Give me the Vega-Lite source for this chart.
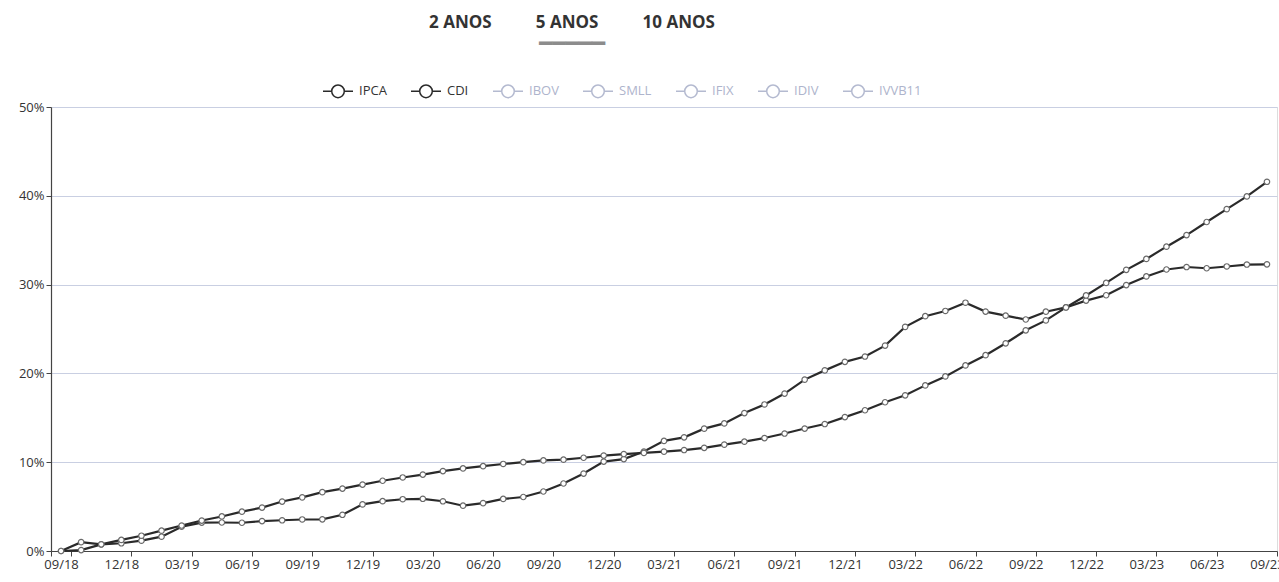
{
  "$schema": "https://vega.github.io/schema/vega-lite/v6.json",
  "width": 1226,
  "height": 444,
  "autosize": {"type": "none"},
  "padding": {"left": 51, "top": 107, "right": 2, "bottom": 31},
  "background": "white",
  "title": {
    "text": "2 ANOS\u00a0\u00a0\u00a0\u00a0\u00a0\u00a0\u00a0\u00a0\u00a0\u00a05 ANOS\u00a0\u00a0\u00a0\u00a0\u00a0\u00a0\u00a0\u00a0\u00a0\u00a010 ANOS",
    "subtitle": "▔▔▔▔▔",
    "anchor": "middle",
    "dx": -92,
    "offset": 8,
    "font": "Open Sans",
    "fontSize": 17,
    "fontWeight": "bold",
    "color": "#333333",
    "subtitleFont": "DejaVu Sans Mono",
    "subtitleFontSize": 22,
    "subtitleColor": "#8c8c8c",
    "subtitlePadding": 13
  },
  "data": {
    "values": [
      {"mes": "09/18", "IPCA": 0, "CDI": 0},
      {"mes": "10/18", "IPCA": 1.0, "CDI": 0.1},
      {"mes": "11/18", "IPCA": 0.75, "CDI": 0.75},
      {"mes": "12/18", "IPCA": 0.87, "CDI": 1.25},
      {"mes": "01/19", "IPCA": 1.16, "CDI": 1.72},
      {"mes": "02/19", "IPCA": 1.61, "CDI": 2.29},
      {"mes": "03/19", "IPCA": 2.73, "CDI": 2.87},
      {"mes": "04/19", "IPCA": 3.2, "CDI": 3.43},
      {"mes": "05/19", "IPCA": 3.21, "CDI": 3.89},
      {"mes": "06/19", "IPCA": 3.18, "CDI": 4.43},
      {"mes": "07/19", "IPCA": 3.37, "CDI": 4.89},
      {"mes": "08/19", "IPCA": 3.46, "CDI": 5.57},
      {"mes": "09/19", "IPCA": 3.55, "CDI": 6.04},
      {"mes": "10/19", "IPCA": 3.57, "CDI": 6.63},
      {"mes": "11/19", "IPCA": 4.08, "CDI": 7.03},
      {"mes": "12/19", "IPCA": 5.25, "CDI": 7.48},
      {"mes": "01/20", "IPCA": 5.61, "CDI": 7.91},
      {"mes": "02/20", "IPCA": 5.83, "CDI": 8.28},
      {"mes": "03/20", "IPCA": 5.88, "CDI": 8.61},
      {"mes": "04/20", "IPCA": 5.6, "CDI": 9.0},
      {"mes": "05/20", "IPCA": 5.1, "CDI": 9.3},
      {"mes": "06/20", "IPCA": 5.39, "CDI": 9.55},
      {"mes": "07/20", "IPCA": 5.86, "CDI": 9.8},
      {"mes": "08/20", "IPCA": 6.08, "CDI": 10.0},
      {"mes": "09/20", "IPCA": 6.7, "CDI": 10.2},
      {"mes": "10/20", "IPCA": 7.6, "CDI": 10.28},
      {"mes": "11/20", "IPCA": 8.72, "CDI": 10.5},
      {"mes": "12/20", "IPCA": 10.07, "CDI": 10.75},
      {"mes": "01/21", "IPCA": 10.35, "CDI": 10.92},
      {"mes": "02/21", "IPCA": 11.2, "CDI": 11.05},
      {"mes": "03/21", "IPCA": 12.4, "CDI": 11.19},
      {"mes": "04/21", "IPCA": 12.8, "CDI": 11.37},
      {"mes": "05/21", "IPCA": 13.78, "CDI": 11.62},
      {"mes": "06/21", "IPCA": 14.37, "CDI": 11.98},
      {"mes": "07/21", "IPCA": 15.53, "CDI": 12.31},
      {"mes": "08/21", "IPCA": 16.5, "CDI": 12.72},
      {"mes": "09/21", "IPCA": 17.73, "CDI": 13.23},
      {"mes": "10/21", "IPCA": 19.3, "CDI": 13.79},
      {"mes": "11/21", "IPCA": 20.34, "CDI": 14.3},
      {"mes": "12/21", "IPCA": 21.3, "CDI": 15.08},
      {"mes": "01/22", "IPCA": 21.9, "CDI": 15.85},
      {"mes": "02/22", "IPCA": 23.13, "CDI": 16.75},
      {"mes": "03/22", "IPCA": 25.24, "CDI": 17.53},
      {"mes": "04/22", "IPCA": 26.44, "CDI": 18.65},
      {"mes": "05/22", "IPCA": 27.03, "CDI": 19.66},
      {"mes": "06/22", "IPCA": 27.96, "CDI": 20.9},
      {"mes": "07/22", "IPCA": 26.96, "CDI": 22.05},
      {"mes": "08/22", "IPCA": 26.5, "CDI": 23.39},
      {"mes": "09/22", "IPCA": 26.07, "CDI": 24.85},
      {"mes": "10/22", "IPCA": 26.95, "CDI": 25.97},
      {"mes": "11/22", "IPCA": 27.43, "CDI": 27.43},
      {"mes": "12/22", "IPCA": 28.2, "CDI": 28.78},
      {"mes": "01/23", "IPCA": 28.8, "CDI": 30.19},
      {"mes": "02/23", "IPCA": 29.95, "CDI": 31.66},
      {"mes": "03/23", "IPCA": 30.92, "CDI": 32.89},
      {"mes": "04/23", "IPCA": 31.7, "CDI": 34.27},
      {"mes": "05/23", "IPCA": 31.98, "CDI": 35.58},
      {"mes": "06/23", "IPCA": 31.84, "CDI": 37.05},
      {"mes": "07/23", "IPCA": 32.04, "CDI": 38.5},
      {"mes": "08/23", "IPCA": 32.26, "CDI": 39.93},
      {"mes": "09/23", "IPCA": 32.28, "CDI": 41.58}
    ]
  },
  "transform": [{"fold": ["IPCA", "CDI"], "as": ["serie", "valor"]}],
  "encoding": {
    "x": {
      "field": "mes",
      "type": "ordinal",
      "sort": null,
      "bandPosition": 0.5,
      "scale": {"type": "band", "paddingInner": 0, "paddingOuter": 0},
      "axis": {
        "values": ["09/18", "12/18", "03/19", "06/19", "09/19", "12/19", "03/20", "06/20", "09/20", "12/20", "03/21", "06/21", "09/21", "12/21", "03/22", "06/22", "09/22", "12/22", "03/23", "06/23", "09/23"],
        "tickBand": "extent",
        "labelAngle": 0,
        "title": null,
        "grid": false,
        "domainColor": "#444444",
        "domainWidth": 1.2,
        "tickColor": "#444444",
        "tickSize": 5,
        "labelFont": "Open Sans",
        "labelFontSize": 13,
        "labelColor": "#333333",
        "labelPadding": 2,
        "labelOverlap": false,
        "labelFlush": false
      }
    },
    "y": {
      "field": "valor",
      "type": "quantitative",
      "scale": {"domain": [0, 50], "nice": false},
      "axis": {
        "values": [0, 10, 20, 30, 40, 50],
        "labelExpr": "datum.value + '%'",
        "title": null,
        "grid": true,
        "gridColor": "#c9cfe2",
        "gridWidth": 1,
        "domainColor": "#444444",
        "domainWidth": 1.2,
        "tickColor": "#444444",
        "tickSize": 5,
        "labelFont": "Open Sans",
        "labelFontSize": 13,
        "labelColor": "#333333",
        "labelPadding": 2
      }
    }
  },
  "layer": [
    {
      "mark": {"type": "line", "strokeWidth": 2.2},
      "encoding": {
        "color": {
          "field": "serie",
          "type": "nominal",
          "scale": {
            "domain": ["IPCA", "CDI", "IBOV", "SMLL", "IFIX", "IDIV", "IVVB11"],
            "range": ["#2a2a2a", "#2a2a2a", "#b4bad0", "#b4bad0", "#b4bad0", "#b4bad0", "#b4bad0"]
          },
          "legend": {
            "orient": "none",
            "legendX": 271,
            "legendY": -32,
            "direction": "horizontal",
            "title": null,
            "symbolType": "M-1,0L-0.42,0M0.42,0L1,0M0.42,0A0.42,0.42,0,1,1,-0.42,0A0.42,0.42,0,1,1,0.42,0",
            "symbolSize": 900,
            "symbolStrokeWidth": 1.5,
            "symbolFillColor": "white",
            "labelFont": "Open Sans",
            "labelFontSize": 13,
            "labelColor": "#444444",
            "labelOffset": 5,
            "columnPadding": 21,
            "encode": {
              "labels": {
                "update": {
                  "fill": {"signal": "indexof(['IPCA','CDI'], datum.value) >= 0 ? '#333333' : '#aeb4cc'"}
                }
              }
            }
          }
        }
      }
    },
    {
      "mark": {"type": "point", "shape": "circle", "filled": true, "fill": "white", "stroke": "#6a6a6a", "strokeWidth": 1.2, "size": 30, "opacity": 1},
      "encoding": {"detail": {"field": "serie", "type": "nominal"}}
    }
  ]
}
